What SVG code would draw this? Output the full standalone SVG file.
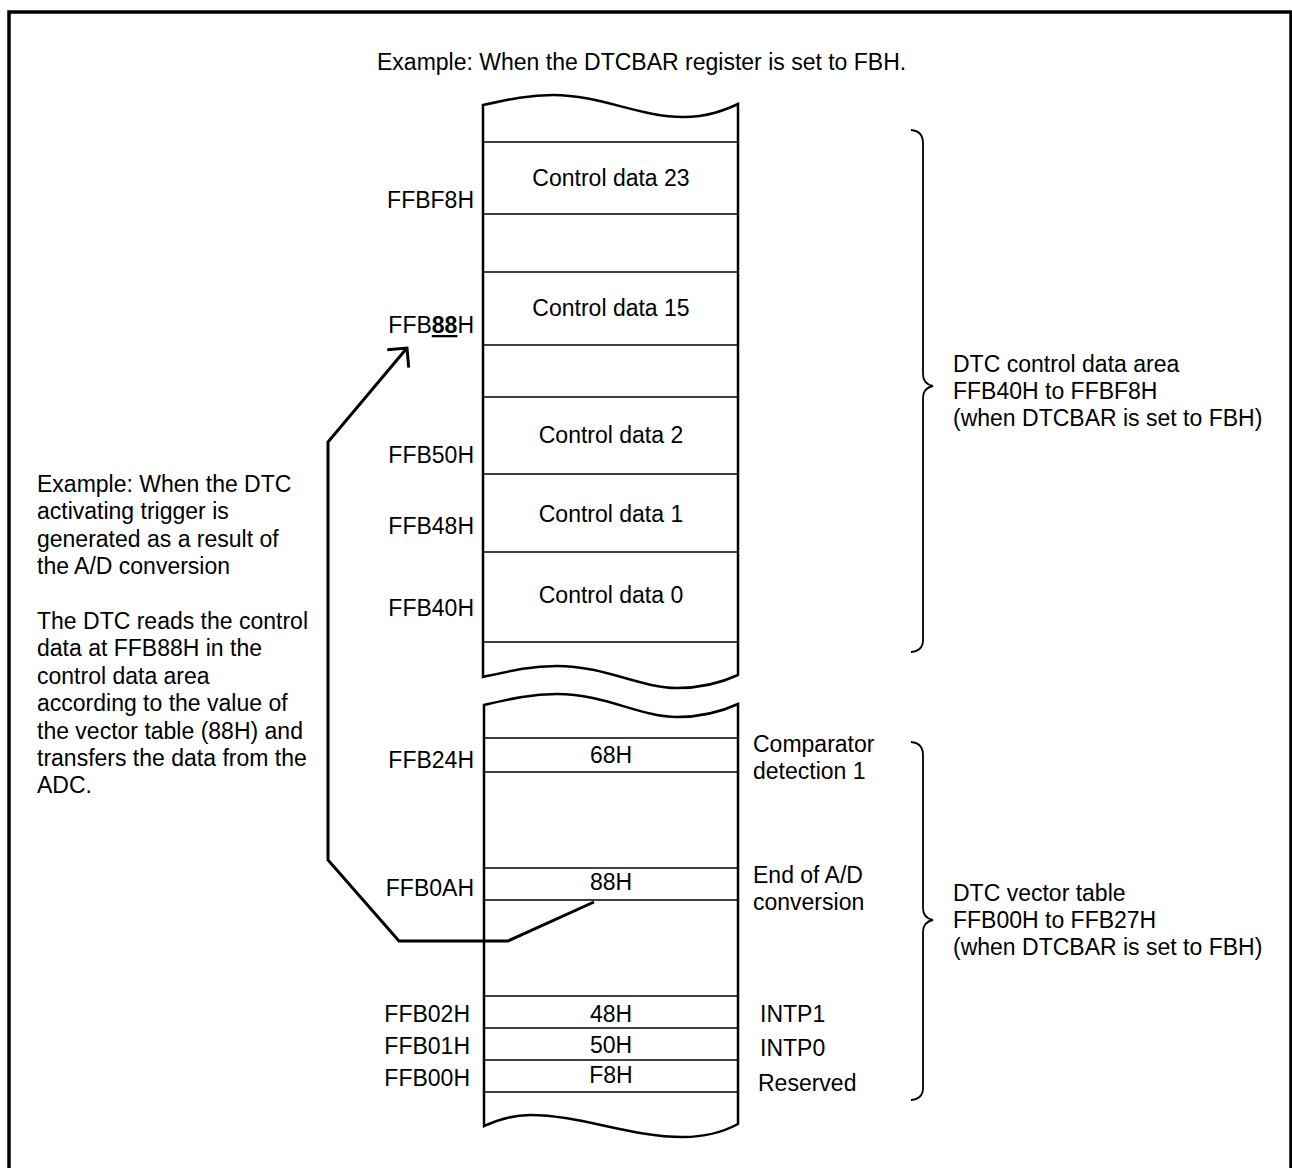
<svg xmlns="http://www.w3.org/2000/svg" width="1292" height="1168" viewBox="0 0 1292 1168">
<style>
text{font-family:"Liberation Sans",Arial,sans-serif;font-size:23px;fill:#000}
.c{text-anchor:middle}
.e{text-anchor:end}
.blk{fill:#fff;stroke:#000;stroke-width:2.5}
.row{stroke:#000;stroke-width:1.4;fill:none}
.brace{fill:none;stroke:#000;stroke-width:1.8}
.conn{fill:none;stroke:#000;stroke-width:3;stroke-linejoin:miter}
</style>
<defs>
<marker id="open" markerUnits="userSpaceOnUse" markerWidth="40" markerHeight="40" refX="0" refY="0" viewBox="-20 -20 40 40" orient="auto" overflow="visible">
<path d="M-14,-14 L0,0 L-14,14" fill="none" stroke="#000" stroke-width="3"/>
</marker>
</defs>
<rect x="0" y="0" width="1292" height="1168" fill="#fff"/>
<rect x="9" y="12" width="1282" height="1200" fill="none" stroke="#000" stroke-width="3.5"/>
<text id="title" x="377" y="70">Example: When the DTCBAR register is set to FBH.</text>

<g id="control-area">
<path class="blk" d="M483,105 C510,99 530,95 553,95 C600,95 640,117 683,117 C708,117 725,110 738,104 L738,675 C725,681 705,688 677,688 C640,688 605,666 557,666 C530,666 510,671 483,677 Z"/>
<g class="row">
<line x1="483" y1="142" x2="738" y2="142"/>
<line x1="483" y1="214" x2="738" y2="214"/>
<line x1="483" y1="272" x2="738" y2="272"/>
<line x1="483" y1="345" x2="738" y2="345"/>
<line x1="483" y1="397" x2="738" y2="397"/>
<line x1="483" y1="474" x2="738" y2="474"/>
<line x1="483" y1="552" x2="738" y2="552"/>
<line x1="483" y1="642" x2="738" y2="642"/>
</g>
<text class="c" x="611" y="186">Control data 23</text>
<text class="c" x="611" y="316">Control data 15</text>
<text class="c" x="611" y="443">Control data 2</text>
<text class="c" x="611" y="522">Control data 1</text>
<text class="c" x="611" y="603">Control data 0</text>
<text class="e" x="474" y="208">FFBF8H</text>
<text class="e" x="474" y="333">FFB<tspan font-weight="bold" text-decoration="underline">88</tspan>H</text>
<text class="e" x="474" y="463">FFB50H</text>
<text class="e" x="474" y="534">FFB48H</text>
<text class="e" x="474" y="616">FFB40H</text>
</g>

<g id="vector-table">
<path class="blk" d="M484,705 C510,699 530,694 557,694 C605,694 640,717 677,717 C705,717 725,710 738,704 L738,1124 C725,1131 708,1137 683,1137 C630,1137 580,1115 530,1115 C510,1115 495,1121 484,1126 Z"/>
<g class="row">
<line x1="484" y1="738" x2="738" y2="738"/>
<line x1="484" y1="772" x2="738" y2="772"/>
<line x1="484" y1="868" x2="738" y2="868"/>
<line x1="484" y1="900" x2="738" y2="900"/>
<line x1="484" y1="996" x2="738" y2="996"/>
<line x1="484" y1="1028" x2="738" y2="1028"/>
<line x1="484" y1="1060" x2="738" y2="1060"/>
<line x1="484" y1="1092" x2="738" y2="1092"/>
</g>
<text class="c" x="611" y="763">68H</text>
<text class="c" x="611" y="890">88H</text>
<text class="c" x="611" y="1022">48H</text>
<text class="c" x="611" y="1053">50H</text>
<text class="c" x="611" y="1083">F8H</text>
<text class="e" x="474" y="768">FFB24H</text>
<text class="e" x="474" y="896">FFB0AH</text>
<text class="e" x="470" y="1022">FFB02H</text>
<text class="e" x="470" y="1054">FFB01H</text>
<text class="e" x="470" y="1086">FFB00H</text>
<text x="753" y="752">Comparator</text>
<text x="753" y="779">detection 1</text>
<text x="753" y="883">End of A/D</text>
<text x="753" y="910">conversion</text>
<text x="760" y="1022">INTP1</text>
<text x="760" y="1056">INTP0</text>
<text x="758" y="1091">Reserved</text>
</g>

<g id="control-brace">
<path class="brace" d="M911,130 Q923,131 923,143 L923,374 Q923,384 933,386 Q923,388 923,398 L923,640 Q923,651 911,652"/>
<text x="953" y="372">DTC control data area</text>
<text x="953" y="399">FFB40H to FFBF8H</text>
<text x="953" y="426">(when DTCBAR is set to FBH)</text>
</g>

<g id="vector-brace">
<path class="brace" d="M911,742 Q923,743 923,755 L923,908 Q923,918 933,920 Q923,922 923,932 L923,1088 Q923,1099 911,1100"/>
<text x="953" y="901">DTC vector table</text>
<text x="953" y="928">FFB00H to FFB27H</text>
<text x="953" y="955">(when DTCBAR is set to FBH)</text>
</g>

<g id="note">
<text x="37" y="492">Example: When the DTC</text>
<text x="37" y="519">activating trigger is</text>
<text x="37" y="547">generated as a result of</text>
<text x="37" y="574">the A/D conversion</text>
<text x="37" y="629">The DTC reads the control</text>
<text x="37" y="656">data at FFB88H in the</text>
<text x="37" y="684">control data area</text>
<text x="37" y="711">according to the value of</text>
<text x="37" y="739">the vector table (88H) and</text>
<text x="37" y="766">transfers the data from the</text>
<text x="37" y="793">ADC.</text>
</g>

<g id="connectors">
<path class="conn" d="M594,902 L508,941 L399,941 L328,860 L328,442 L407,348" marker-end="url(#open)"/>
</g>
</svg>
